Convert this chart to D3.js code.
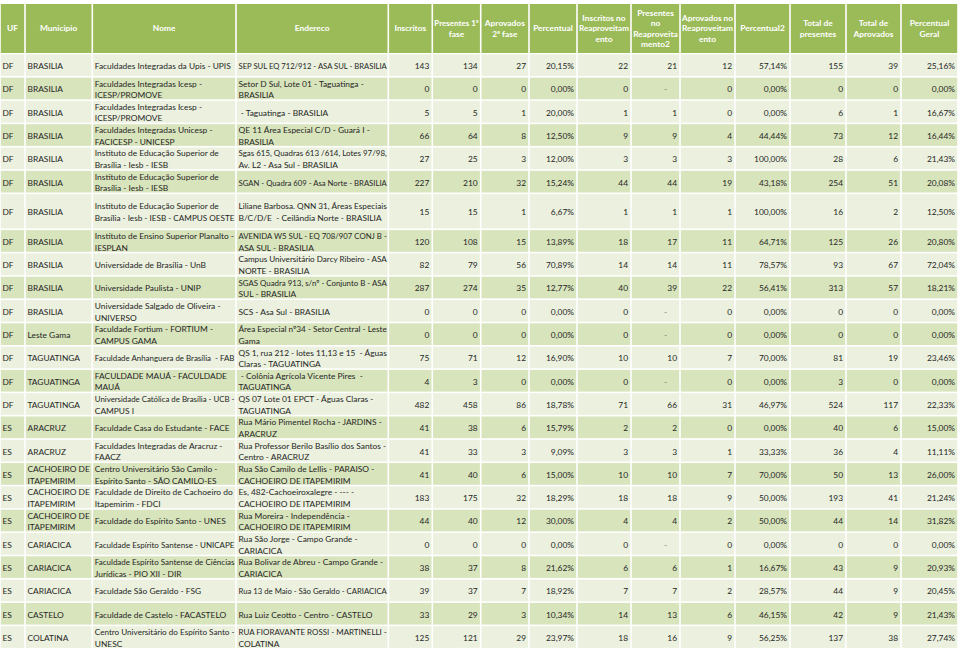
<!DOCTYPE html>
<html>
<head>
<meta charset="utf-8">
<script src="https://cdn.jsdelivr.net/npm/d3@7"></script>
<style>
html, body { margin: 0; padding: 0; background: #fff; }
svg { display: block; }
text { font-family: Lato, "Open Sans", sans-serif; }
</style>
</head>
<body>
<div id="tabela"></div>
<script>
// Dados
const cabecalhos = ['UF', 'Municipio', 'Nome', 'Endereco', 'Inscritos', 'Presentes 1ª\nfase',
    'Aprovados\n2ª fase', 'Percentual', 'Inscritos no\nReaproveitam\nento', 'Presentes\nno\nReaproveita\nmento2',
    'Aprovados no\nReaproveitam\nento', 'Percentual2', 'Total de\npresentes', 'Total de\nAprovados', 'Percentual\nGeral']

const uf = ['DF', 'DF', 'DF', 'DF', 'DF', 'DF', 'DF', 'DF', 'DF', 'DF', 'DF', 'DF', 'DF', 'DF', 'DF',
    'ES', 'ES', 'ES', 'ES', 'ES', 'ES', 'ES', 'ES', 'ES', 'ES']

const municipios = ['BRASILIA', 'BRASILIA', 'BRASILIA', 'BRASILIA', 'BRASILIA', 'BRASILIA', 'BRASILIA',
    'BRASILIA', 'BRASILIA', 'BRASILIA', 'BRASILIA', 'Leste Gama', 'TAGUATINGA', 'TAGUATINGA', 'TAGUATINGA',
    'ARACRUZ', 'ARACRUZ', 'CACHOEIRO DE\nITAPEMIRIM', 'CACHOEIRO DE\nITAPEMIRIM', 'CACHOEIRO DE\nITAPEMIRIM',
    'CARIACICA', 'CARIACICA', 'CARIACICA', 'CASTELO', 'COLATINA']

const nomes = [
    'Faculdades Integradas da Upis - UPIS',
    'Faculdades Integradas Icesp -\nICESP/PROMOVE',
    'Faculdades Integradas Icesp -\nICESP/PROMOVE',
    'Faculdades Integradas Unicesp -\nFACICESP - UNICESP',
    'Instituto de Educação Superior de\nBrasília - Iesb - IESB',
    'Instituto de Educação Superior de\nBrasília - Iesb - IESB',
    'Instituto de Educação Superior de\nBrasília - Iesb - IESB - CAMPUS OESTE',
    'Instituto de Ensino Superior Planalto -\nIESPLAN',
    'Universidade de Brasília - UnB',
    'Universidade Paulista - UNIP',
    'Universidade Salgado de Oliveira -\nUNIVERSO',
    'Faculdade Fortium - FORTIUM -\nCAMPUS GAMA',
    'Faculdade Anhanguera de Brasília  - FAB',
    'FACULDADE MAUÁ - FACULDADE\nMAUÁ',
    'Universidade Católica de Brasília - UCB -\nCAMPUS I',
    'Faculdade Casa do Estudante - FACE',
    'Faculdades Integradas de Aracruz -\nFAACZ',
    'Centro Universitário São Camilo -\nEspírito Santo - SÃO CAMILO-ES',
    'Faculdade de Direito de Cachoeiro do\nItapemirim - FDCI',
    'Faculdade do Espírito Santo - UNES',
    'Faculdade Espírito Santense - UNICAPE',
    'Faculdade Espírito Santense de Ciências\nJurídicas - PIO XII - DIR',
    'Faculdade São Geraldo - FSG',
    'Faculdade de Castelo - FACASTELO',
    'Centro Universitário do Espírito Santo -\nUNESC'
]

const enderecos = [
    'SEP SUL EQ 712/912 - ASA SUL - BRASILIA',
    'Setor D Sul, Lote 01 - Taguatinga -\nBRASILIA',
    ' - Taguatinga - BRASILIA',
    'QE 11 Área Especial C/D - Guará I -\nBRASILIA',
    'Sgas 615, Quadras 613 /614, Lotes 97/98,\nAv. L2 - Asa Sul - BRASILIA',
    'SGAN - Quadra 609 - Asa Norte - BRASILIA',
    'Liliane Barbosa. QNN 31, Áreas Especiais\nB/C/D/E  - Ceilândia Norte - BRASILIA',
    'AVENIDA W5 SUL - EQ 708/907 CONJ B -\nASA SUL - BRASILIA',
    'Campus Universitário Darcy Ribeiro - ASA\nNORTE - BRASILIA',
    'SGAS Quadra 913, s/nº - Conjunto B - ASA\nSUL - BRASILIA',
    'SCS - Asa Sul - BRASILIA',
    'Área Especial nº34 - Setor Central - Leste\nGama',
    'QS 1, rua 212 - lotes 11,13 e 15  - Águas\nClaras - TAGUATINGA',
    ' - Colônia Agrícola Vicente Pires  -\nTAGUATINGA',
    'QS 07 Lote 01 EPCT - Águas Claras -\nTAGUATINGA',
    'Rua Mário Pimentel Rocha - JARDINS -\nARACRUZ',
    'Rua Professor Berilo Basílio dos Santos -\nCentro - ARACRUZ',
    'Rua São Camilo de Lellis - PARAISO -\nCACHOEIRO DE ITAPEMIRIM',
    'Es, 482-Cachoeiroxalegre - --- -\nCACHOEIRO DE ITAPEMIRIM',
    'Rua Moreira - Independência -\nCACHOEIRO DE ITAPEMIRIM',
    'Rua São Jorge - Campo Grande -\nCARIACICA',
    'Rua Bolivar de Abreu - Campo Grande -\nCARIACICA',
    'Rua 13 de Maio - São Geraldo - CARIACICA',
    'Rua Luiz Ceotto - Centro - CASTELO',
    'RUA FIORAVANTE ROSSI - MARTINELLI -\nCOLATINA'
]

const inscritos = [143, 0, 5, 66, 27, 227, 15, 120, 82, 287, 0, 0, 75, 4, 482, 41, 41, 41, 183, 44, 0, 38, 39, 33, 125]
const presentes1 = [134, 0, 5, 64, 25, 210, 15, 108, 79, 274, 0, 0, 71, 3, 458, 38, 33, 40, 175, 40, 0, 37, 37, 29, 121]
const aprovados2 = [27, 0, 1, 8, 3, 32, 1, 15, 56, 35, 0, 0, 12, 0, 86, 6, 3, 6, 32, 12, 0, 8, 7, 3, 29]
const percentual = [20.15, 0, 20.00, 12.50, 12.00, 15.24, 6.67, 13.89, 70.89, 12.77, 0, 0, 16.90, 0, 18.78,
    15.79, 9.09, 15.00, 18.29, 30.00, 0, 21.62, 18.92, 10.34, 23.97]
const inscritosReap = [22, 0, 1, 9, 3, 44, 1, 18, 14, 40, 0, 0, 10, 0, 71, 2, 3, 10, 18, 4, 0, 6, 7, 14, 18]
const presentesReap = [21, null, 1, 9, 3, 44, 1, 17, 14, 39, null, null, 10, null, 66, 2, 3, 10, 18, 4, null, 6, 7, 13, 16]
const aprovadosReap = [12, 0, 0, 4, 3, 19, 1, 11, 11, 22, 0, 0, 7, 0, 31, 0, 1, 7, 9, 2, 0, 1, 2, 6, 9]
const percentual2 = [57.14, 0, 0, 44.44, 100, 43.18, 100, 64.71, 78.57, 56.41, 0, 0, 70.00, 0, 46.97,
    0, 33.33, 70.00, 50.00, 50.00, 0, 16.67, 28.57, 46.15, 56.25]
const totalPresentes = [155, 0, 6, 73, 28, 254, 16, 125, 93, 313, 0, 0, 81, 3, 524, 40, 36, 50, 193, 44, 0, 43, 44, 42, 137]
const totalAprovados = [39, 0, 1, 12, 6, 51, 2, 26, 67, 57, 0, 0, 19, 0, 117, 6, 4, 13, 41, 14, 0, 9, 9, 9, 38]
const percentualGeral = [25.16, 0, 16.67, 16.44, 21.43, 20.08, 12.50, 20.80, 72.04, 18.21, 0, 0, 23.46, 0, 22.33,
    15.00, 11.11, 26.00, 21.24, 31.82, 0, 20.93, 20.45, 21.43, 27.74]

// Dimensiones
const anchoTotal = 960
const altoTotal = 652

const bordas = [0, 25, 92.3, 236, 388.3, 432.3, 480.7, 529, 577, 631, 680, 735, 790, 846, 901, 958]
const topoCab = 4
const altoCab = 49
const topoLinhas = 53.5
const altoLinha = 23.3
const altoLinhaAlta = 36
const entreLinhas = 11.6
const gap = 1.6

const fontSize = 8.4

const colores = {
    cab: '#9BBB59',
    clara: '#EBF1DE',
    escura: '#D8E4BC',
    texto: '#262626'
}

// Tabla de celdas
const fmtPct = (v) => d3.format('.2f')(v).replace('.', ',') + '%'
const fmtNum = (v) => v === null ? '-' : String(v)

const linhas = d3.range(uf.length).map((i) => [
    uf[i], municipios[i], nomes[i], enderecos[i],
    fmtNum(inscritos[i]), fmtNum(presentes1[i]), fmtNum(aprovados2[i]), fmtPct(percentual[i]),
    fmtNum(inscritosReap[i]), fmtNum(presentesReap[i]), fmtNum(aprovadosReap[i]), fmtPct(percentual2[i]),
    fmtNum(totalPresentes[i]), fmtNum(totalAprovados[i]), fmtPct(percentualGeral[i])
])

const alturas = linhas.map((d) => d[2].includes('CAMPUS OESTE') ? altoLinhaAlta : altoLinha)
const topos = [topoLinhas, ...Array.from(d3.cumsum(alturas), (v) => topoLinhas + v)]

// Escaladores
const xCol = d3.scaleOrdinal().domain(d3.range(cabecalhos.length)).range(bordas.slice(0, -1))
const wCol = (j) => bordas[j + 1] - bordas[j]
const yLin = d3.scaleOrdinal().domain(d3.range(linhas.length)).range(topos.slice(0, -1))

// si una línea no cabe, se comprime
const ajustar = (sel, maxW) => sel.each(function () {
    const largo = this.getComputedTextLength()
    if (largo > maxW) {
        d3.select(this)
            .attr('textLength', maxW)
            .attr('lengthAdjust', 'spacingAndGlyphs')
    }
})

//Elementos gráficos
const svg = d3.select('#tabela').append('svg')
    .attr('width', anchoTotal)
    .attr('height', altoTotal)

svg.append('rect')
    .attr('width', anchoTotal)
    .attr('height', altoTotal)
    .attr('fill', 'white')

// Cabecera
const cab = svg.append('g').selectAll('g')
    .data(cabecalhos)
    .join('g')
    .attr('transform', (d, j) => `translate(${xCol(j)}, ${topoCab})`)

cab.append('rect')
    .attr('x', gap / 2)
    .attr('width', (d, j) => wCol(j) - gap)
    .attr('height', altoCab)
    .attr('fill', colores.cab)

cab.each(function (d, j) {
    const partes = d.split('\n')
    const lh = 10.3
    d3.select(this).append('text')
        .attr('fill', 'white')
        .attr('font-weight', 700)
        .attr('font-size', fontSize)
        .attr('text-anchor', 'middle')
        .selectAll('tspan')
        .data(partes)
        .join('tspan')
        .attr('x', wCol(j) / 2)
        .attr('y', (p, k) => altoCab / 2 + (k - (partes.length - 1) / 2) * lh)
        .attr('dy', '0.35em')
        .text((p) => p)
        .call(ajustar, wCol(j) - 4)
})

// Filas
const fila = svg.append('g').selectAll('g')
    .data(linhas)
    .join('g')
    .attr('transform', (d, i) => `translate(0, ${yLin(i)})`)

fila.each(function (d, i) {
    const h = alturas[i]
    const celda = d3.select(this).selectAll('g')
        .data(d)
        .join('g')
        .attr('transform', (v, j) => `translate(${xCol(j)}, 0)`)

    celda.append('rect')
        .attr('x', gap / 2)
        .attr('y', gap / 2)
        .attr('width', (v, j) => wCol(j) - gap)
        .attr('height', h - gap)
        .attr('fill', i % 2 ? colores.escura : colores.clara)

    celda.each(function (v, j) {
        const partes = v.split('\n')
        const numero = j >= 4
        const guion = v === '-'
        d3.select(this).append('text')
            .attr('fill', guion ? '#777' : colores.texto)
            .attr('font-size', fontSize)
            .attr('text-anchor', numero ? 'end' : 'start')
            .attr('xml:space', 'preserve')
            .selectAll('tspan')
            .data(partes)
            .join('tspan')
            .attr('x', numero ? wCol(j) - (guion ? 13 : 3) : 2.5)
            .attr('y', (p, k) => h / 2 + 1 + (k - (partes.length - 1) / 2) * entreLinhas)
            .attr('dy', '0.35em')
            .text((p) => p)
            .call(ajustar, wCol(j) - 4)
    })
})
</script>
</body>
</html>
